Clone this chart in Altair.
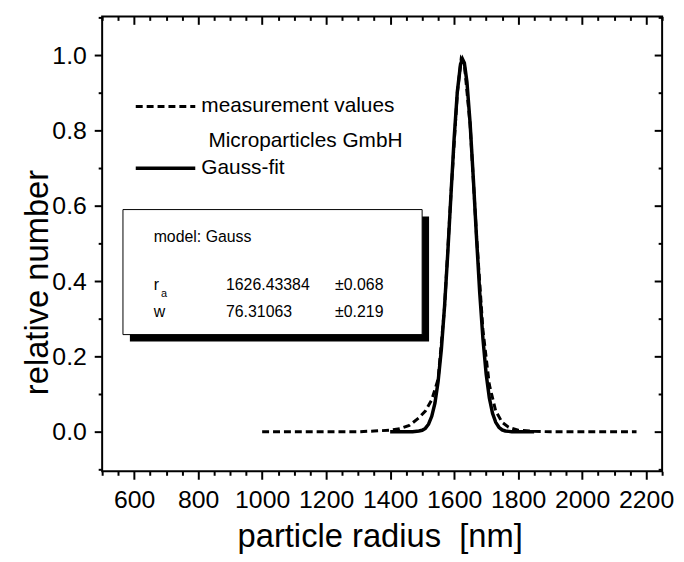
import altair as alt
import pandas as pd

# ---------------- data ----------------
meas_x = [1000, 1100, 1200, 1300, 1350, 1400, 1430, 1460, 1490, 1510, 1530, 1550,
          1570, 1590, 1610, 1622, 1632, 1650, 1670, 1690, 1710, 1730, 1750, 1770,
          1800, 1850, 1900, 2000, 2100, 2170]
meas_y = [0.0, 0.0, 0.0, 0.0, 0.002, 0.004, 0.008, 0.017, 0.037, 0.055, 0.085, 0.14,
          0.33, 0.63, 0.90, 0.99, 0.975, 0.815, 0.52, 0.27, 0.125, 0.055, 0.025, 0.012,
          0.004, 0.001, 0.0, 0.0, 0.0, 0.0]

fit_x = [1400, 1440, 1470, 1490, 1500, 1510, 1520, 1530, 1540, 1550, 1560, 1570,
         1580, 1590, 1600, 1610, 1620, 1626, 1632, 1640, 1650, 1660, 1670, 1680,
         1690, 1700, 1710, 1720, 1730, 1740, 1750, 1760, 1770, 1780, 1800, 1820, 1850]
fit_y = [0.0, 0.0, 0.0, 0.002, 0.004, 0.009, 0.020, 0.041, 0.076, 0.134, 0.218, 0.332,
         0.473, 0.628, 0.779, 0.903, 0.976, 0.990, 0.979, 0.929, 0.818, 0.672, 0.515, 0.369,
         0.247, 0.154, 0.090, 0.049, 0.025, 0.012, 0.005, 0.002, 0.001, 0.0, 0.0, 0.0, 0.0]

x_domain = [500, 2250]
y_domain = [-0.105, 1.103]
x_major = [600, 800, 1000, 1200, 1400, 1600, 1800, 2000, 2200]
x_minor = [500, 550, 650, 700, 750, 850, 900, 950, 1050, 1100, 1150, 1250, 1300, 1350,
           1450, 1500, 1550, 1650, 1700, 1750, 1850, 1900, 1950, 2050, 2100, 2150, 2250]
y_major = [0.0, 0.2, 0.4, 0.6, 0.8, 1.0]
y_minor = [-0.1, 0.1, 0.3, 0.5, 0.7, 0.9, 1.1]

x_title = "particle radius\u00a0 [nm]"
y_title = "relative number"

# legend (data coordinates)
legend_x1 = [605, 605]
legend_x2 = [791, 791]
legend_y = [0.864, 0.700]
legend_text = ["measurement values", "Microparticles GmbH", "Gauss-fit"]
legend_text_x = [810, 832, 810]
legend_text_y = [0.864, 0.771, 0.700]

# fit-result box (data coordinates)
box_x = [565]
box_x2 = [1500]
box_y = [0.590]
box_y2 = [0.258]
box_text = ["model: Gauss", "r", "1626.43384", "\u00b10.068", "w", "76.31063", "\u00b10.219"]
box_text_x = [661, 661, 887, 1228, 661, 887, 1228]
box_text_y = [0.503, 0.377, 0.377, 0.377, 0.306, 0.306, 0.306]
sub_text = ["a"]
sub_x = [684]
sub_y = [0.357]

W, H = 565, 459
FONT = "Liberation Sans"

meas = pd.DataFrame({"x": meas_x, "y": meas_y})
fit = pd.DataFrame({"x": fit_x, "y": fit_y})

xs = alt.Scale(domain=x_domain, nice=False, zero=False)
ys = alt.Scale(domain=y_domain, nice=False, zero=False)


def axis_layer(xorient, yorient, xvals, yvals, size, offset, labels, titles):
    xkw = dict(orient=xorient, values=xvals, tickSize=size, offset=offset, labels=labels,
               domain=False, grid=False, ticks=True, tickColor="black", tickWidth=2,
               labelOverlap=False, labelFlush=False)
    ykw = dict(orient=yorient, values=yvals, tickSize=size, offset=offset, labels=labels,
               domain=False, grid=False, ticks=True, tickColor="black", tickWidth=2,
               labelOverlap=False, labelFlush=False)
    if labels:
        xkw.update(format="d", labelFont=FONT, labelFontSize=25, labelColor="black",
                   labelPadding=9)
        ykw.update(format=".1f", labelFont=FONT, labelFontSize=25, labelColor="black",
                   labelPadding=8)
    if titles:
        xkw.update(title=x_title, titleFont=FONT, titleFontSize=33, titleFontWeight="normal",
                   titleColor="black", titleX=280, titleY=76, titleBaseline="alphabetic")
        ykw.update(title=y_title, titleFont=FONT, titleFontSize=33, titleFontWeight="normal",
                   titleColor="black", titleX=-55, titleY=268, titleAngle=270,
                   titleBaseline="alphabetic")
    else:
        xkw.update(title=None)
        ykw.update(title=None)
    return alt.Chart(meas).mark_point(opacity=0).encode(
        x=alt.X("x:Q", scale=xs, axis=alt.Axis(**xkw)),
        y=alt.Y("y:Q", scale=ys, axis=alt.Axis(**ykw)),
    )


ax_main = axis_layer("bottom", "left", x_major, y_major, 8, 0, True, True)
ax_minor = axis_layer("bottom", "left", x_minor, y_minor, 4, 0, False, False)
ax_top_major = axis_layer("top", "right", x_major, y_major, 8, -8, False, False)
ax_top_minor = axis_layer("top", "right", x_minor, y_minor, 4, -4, False, False)

meas_line = alt.Chart(meas).mark_line(color="black", strokeWidth=3, strokeDash=[7, 4]).encode(
    x=alt.X("x:Q", scale=xs, axis=None), y=alt.Y("y:Q", scale=ys, axis=None))
fit_line = alt.Chart(fit).mark_line(color="black", strokeWidth=3.5).encode(
    x=alt.X("x:Q", scale=xs, axis=None), y=alt.Y("y:Q", scale=ys, axis=None))

leg = pd.DataFrame({"x": legend_x1, "x2": legend_x2, "y": legend_y})
leg_dash = alt.Chart(leg.iloc[[0]]).mark_rule(color="black", strokeWidth=3, strokeDash=[7, 4]).encode(
    x=alt.X("x:Q", scale=xs, axis=None), x2="x2:Q", y=alt.Y("y:Q", scale=ys, axis=None))
leg_solid = alt.Chart(leg.iloc[[1]]).mark_rule(color="black", strokeWidth=3.5).encode(
    x=alt.X("x:Q", scale=xs, axis=None), x2="x2:Q", y=alt.Y("y:Q", scale=ys, axis=None))
leg_txt = alt.Chart(pd.DataFrame({"t": legend_text, "x": legend_text_x, "y": legend_text_y})).mark_text(
    font=FONT, fontSize=21, color="black", align="left", baseline="middle").encode(
    x=alt.X("x:Q", scale=xs, axis=None), y=alt.Y("y:Q", scale=ys, axis=None), text="t:N")

box = pd.DataFrame({"x": box_x, "x2": box_x2, "y": box_y, "y2": box_y2})
shadow = alt.Chart(box).mark_rect(fill="black", xOffset=7, x2Offset=7, yOffset=7, y2Offset=7).encode(
    x=alt.X("x:Q", scale=xs, axis=None), x2="x2:Q", y=alt.Y("y:Q", scale=ys, axis=None), y2="y2:Q")
frame = alt.Chart(box).mark_rect(fill="white", stroke="black", strokeWidth=1).encode(
    x=alt.X("x:Q", scale=xs, axis=None), x2="x2:Q", y=alt.Y("y:Q", scale=ys, axis=None), y2="y2:Q")
box_txt = alt.Chart(pd.DataFrame({"t": box_text, "x": box_text_x, "y": box_text_y})).mark_text(
    font=FONT, fontSize=16, color="black", align="left", baseline="alphabetic").encode(
    x=alt.X("x:Q", scale=xs, axis=None), y=alt.Y("y:Q", scale=ys, axis=None), text="t:N")
sub_txt = alt.Chart(pd.DataFrame({"t": sub_text, "x": sub_x, "y": sub_y})).mark_text(
    font=FONT, fontSize=11, color="black", align="left", baseline="alphabetic").encode(
    x=alt.X("x:Q", scale=xs, axis=None), y=alt.Y("y:Q", scale=ys, axis=None), text="t:N")

chart = alt.layer(
    ax_main, ax_minor, ax_top_major, ax_top_minor,
    shadow, frame, box_txt, sub_txt,
    meas_line, fit_line, leg_dash, leg_solid, leg_txt,
).resolve_axis(x="independent", y="independent").properties(
    width=W, height=H,
    autosize=alt.AutoSizeParams(type="none"),
    padding={"left": 95, "top": 6, "right": 14, "bottom": 84},
    background="white",
).configure_view(stroke="black", strokeWidth=2)

chart.save("out.html", embed_options={"renderer": "svg", "actions": False})
